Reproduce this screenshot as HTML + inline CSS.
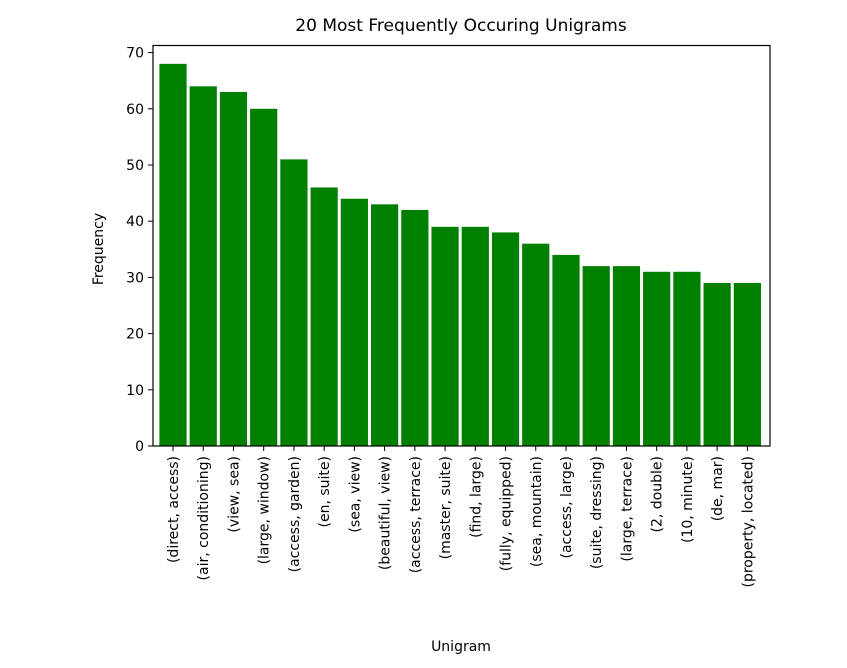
<!DOCTYPE html>
<html><head><meta charset="utf-8"><style>
body{margin:0;background:#fff;}
svg text{font-family:"DejaVu Sans","Liberation Sans",sans-serif;fill:#000;}
</style></head><body>
<svg width="847" height="663">
<text x="461" y="31" font-size="17" text-anchor="middle">20 Most Frequently Occuring Unigrams</text>
<g id="bars"></g>
<g id="axes"></g>
<rect x="153" y="45.5" width="617" height="400.5" fill="none" stroke="#000" stroke-width="1.2"/>
<text x="103" y="249" font-size="14" text-anchor="middle" transform="rotate(-90 103 249)">Frequency</text>
<text x="461" y="651" font-size="14" text-anchor="middle">Unigram</text>
</svg>
<script>
const categories=["(direct, access)","(air, conditioning)","(view, sea)","(large, window)","(access, garden)","(en, suite)","(sea, view)","(beautiful, view)","(access, terrace)","(master, suite)","(find, large)","(fully, equipped)","(sea, mountain)","(access, large)","(suite, dressing)","(large, terrace)","(2, double)","(10, minute)","(de, mar)","(property, located)"];
const values=[68,64,63,60,51,46,44,43,42,39,39,38,36,34,32,32,31,31,29,29];
const yTicks=[0,10,20,30,40,50,60,70];
const NS="http://www.w3.org/2000/svg";
function y(v){return 446-v*5.62;}
function x(i){return 173+i*30.23;}
const bw=27.2;
const bars=document.getElementById('bars'),axes=document.getElementById('axes');
values.forEach((v,i)=>{
 const r=document.createElementNS(NS,'rect');
 r.setAttribute('x',x(i)-bw/2);r.setAttribute('y',y(v));r.setAttribute('width',bw);r.setAttribute('height',446-y(v));r.setAttribute('fill','#008000');
 
 
 bars.appendChild(r);
 const t=document.createElementNS(NS,'line');
 t.setAttribute('x1',x(i));t.setAttribute('x2',x(i));t.setAttribute('y1',446);t.setAttribute('y2',451);t.setAttribute('stroke','#000');
 
 
 axes.appendChild(t);
 const l=document.createElementNS(NS,'text');
 l.setAttribute('x',x(i)+5);l.setAttribute('y',456);l.setAttribute('font-size','14');l.setAttribute('text-anchor','end');
 l.setAttribute('transform','rotate(-90 '+(x(i)+5)+' 456)');
 l.textContent=categories[i];
 
 
 axes.appendChild(l);
});
yTicks.forEach(v=>{
 const t=document.createElementNS(NS,'line');
 t.setAttribute('x1',148);t.setAttribute('x2',153);t.setAttribute('y1',y(v));t.setAttribute('y2',y(v));t.setAttribute('stroke','#000');
 
 
 axes.appendChild(t);
 const l=document.createElementNS(NS,'text');
 l.setAttribute('x',144);l.setAttribute('y',y(v)+5);l.setAttribute('font-size','14');l.setAttribute('text-anchor','end');
 l.textContent=v;
 
 
 axes.appendChild(l);
});
</script>
</body></html>
